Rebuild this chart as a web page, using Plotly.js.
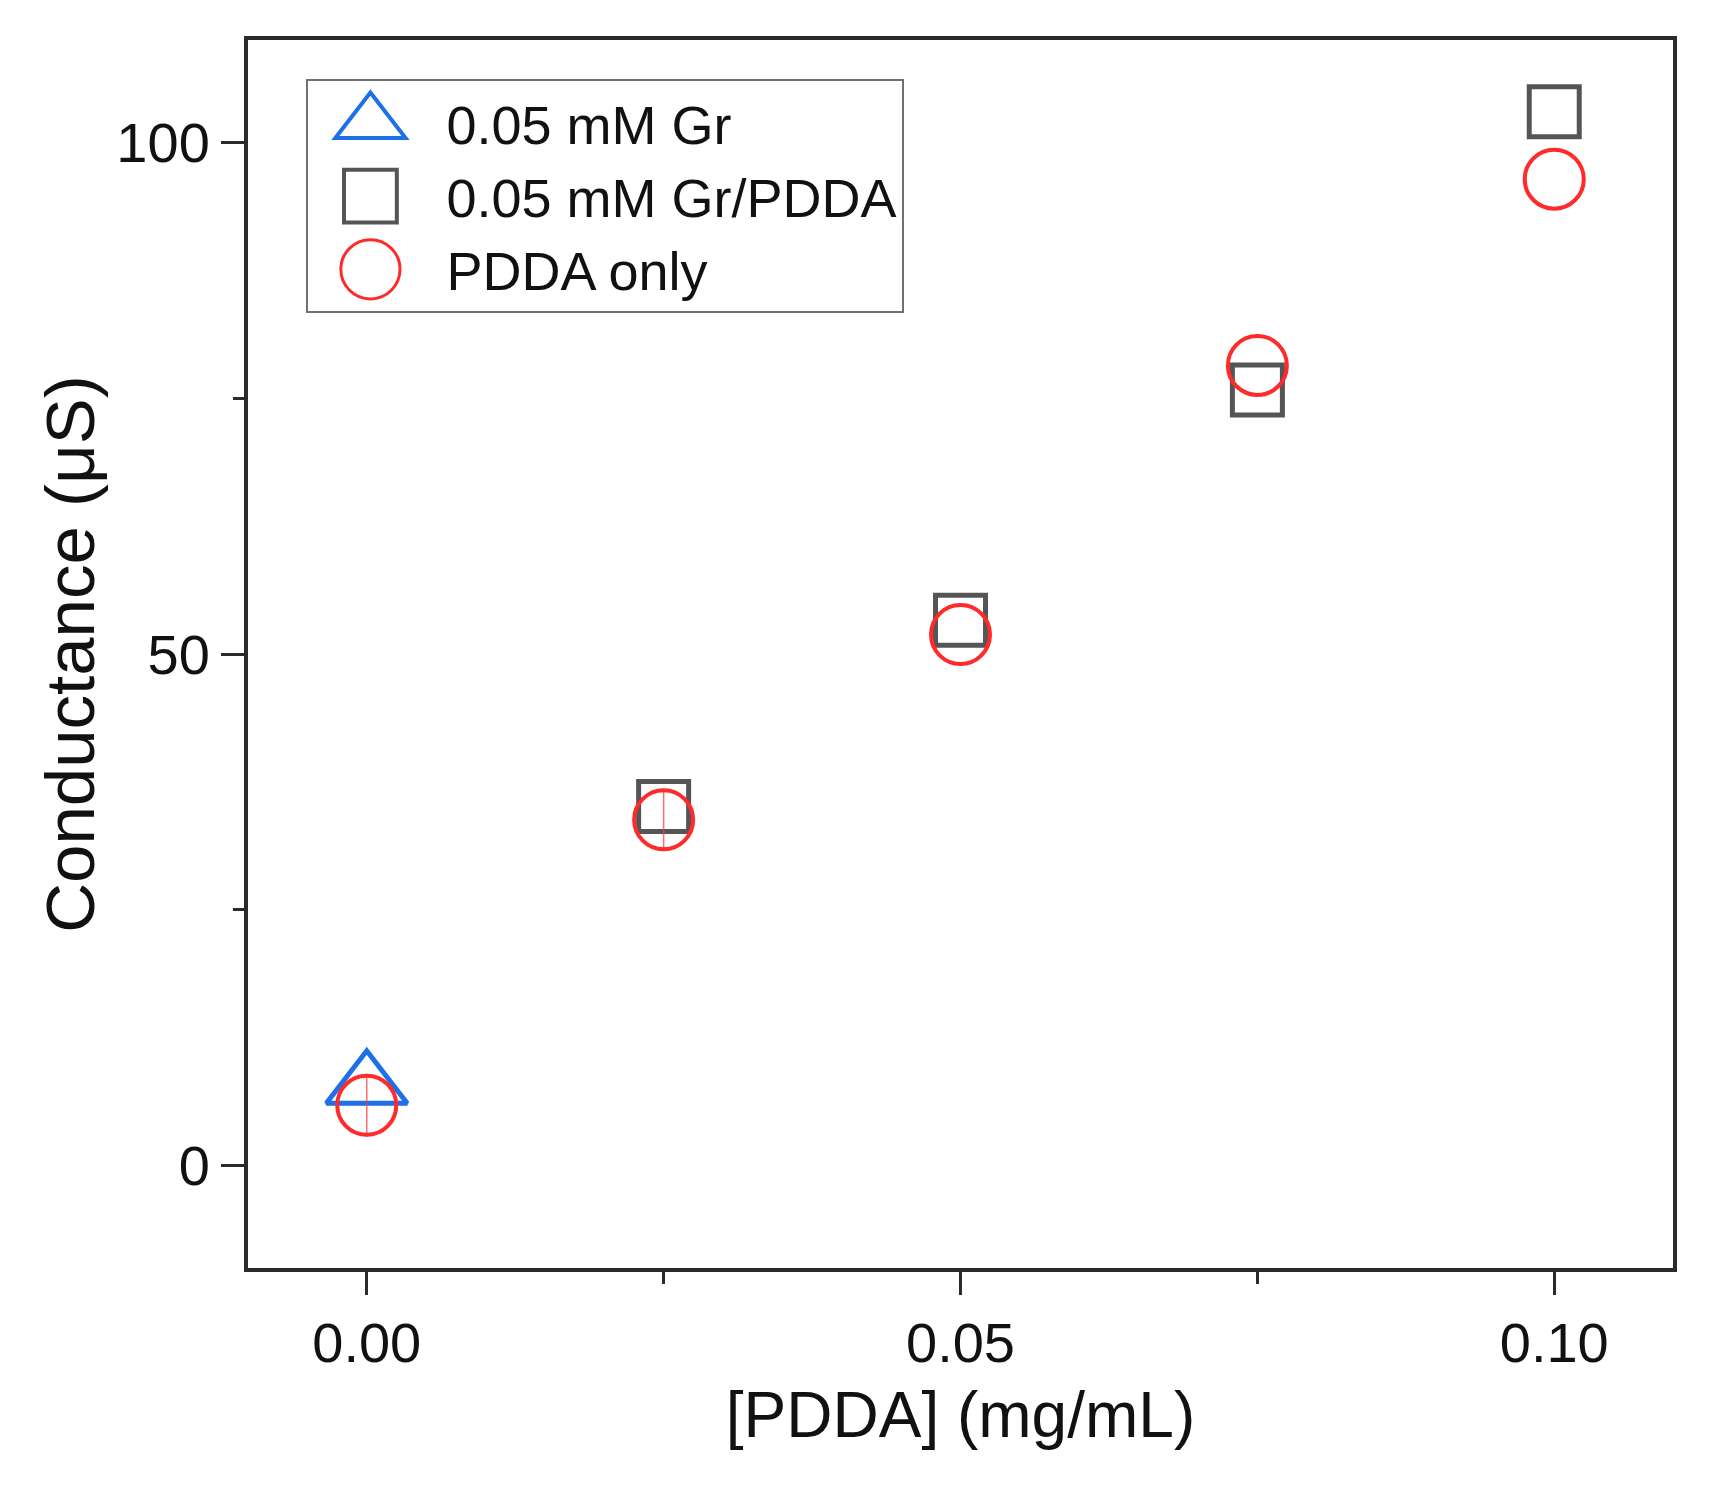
<!DOCTYPE html>
<html>
<head>
<meta charset="utf-8">
<script src="https://cdn.plot.ly/plotly-3.0.1.min.js"></script>
<style>
  html, body { margin: 0; padding: 0; background: #fff; }
  #chart { width: 1720px; height: 1497px; }
</style>
</head>
<body>
<div id="chart"></div>
<script>
// [PDDA] in mg/mL
const grX = [0];
const grY = [7.8];

const grPddaX = [0.025, 0.05, 0.075, 0.10];
const grPddaY = [35.1, 53.3, 75.8, 103.0];

const pddaX = [0, 0.025, 0.05, 0.075, 0.10];
const pddaY = [5.9, 33.8, 51.9, 78.2, 96.4];
const pddaErr = [3.1, 3.0, 0, 0, 0];

const xTicks = [0, 0.05, 0.10];
const yTicks = [0, 50, 100];

const font = 'Liberation Sans, Arial, sans-serif';

const data = [{
    x: grX,
    y: grY,
    name: '0.05 mM Gr',
    type: 'scatter',
    mode: 'markers',
    marker: {
        symbol: 'triangle-up-open',
        size: 70,
        color: '#1f6fe6',
        line: {width: 5, color: '#1f6fe6'}
    },
    legendgroup: 'a'
}, {
    x: grPddaX,
    y: grPddaY,
    name: '0.05 mM Gr/PDDA',
    type: 'scatter',
    mode: 'markers',
    marker: {
        symbol: 'square-open',
        size: 50,
        color: '#555555',
        line: {width: 5, color: '#555555'}
    },
    legendgroup: 'b'
}, {
    x: pddaX,
    y: pddaY,
    name: 'PDDA only',
    type: 'scatter',
    mode: 'markers',
    marker: {
        symbol: 'circle-open',
        size: 59,
        color: '#ff2a2a',
        line: {width: 4, color: '#ff2a2a'}
    },
    error_y: {
        type: 'data',
        array: pddaErr,
        visible: true,
        color: 'rgba(255,60,60,0.75)',
        thickness: 1.5,
        width: 0
    },
    legendgroup: 'c'
}];

const axisCommon = {
    showline: true,
    linecolor: '#2b2b2b',
    linewidth: 4,
    mirror: true,
    showgrid: false,
    zeroline: false,
    ticks: 'outside',
    ticklen: 23,
    tickwidth: 3,
    tickcolor: '#2b2b2b',
    tickfont: {family: font, size: 56, color: '#111'},
    automargin: false
};

const layout = {
    width: 1720,
    height: 1497,
    paper_bgcolor: '#ffffff',
    plot_bgcolor: '#ffffff',
    margin: {l: 248, r: 47, t: 40, b: 229},
    showlegend: true,
    xaxis: Object.assign({}, axisCommon, {
        range: [-0.01, 0.11],
        tickvals: xTicks,
        tickformat: '.2f',
        ticklabelstandoff: 0,
        minor: {dtick: 0.025, ticks: 'outside', ticklen: 12, tickwidth: 3, tickcolor: '#2b2b2b'},
        title: {
            text: '[PDDA] (mg/mL)',
            font: {family: font, size: 64, color: '#111'},
            standoff: 20
        }
    }),
    yaxis: Object.assign({}, axisCommon, {
        range: [-10, 110],
        tickvals: yTicks,
        ticklabelstandoff: 0,
        minor: {dtick: 25, ticks: 'outside', ticklen: 11, tickwidth: 3, tickcolor: '#2b2b2b'},
        title: {
            text: 'Conductance (μS)',
            font: {family: font, size: 69, color: '#111'},
            standoff: 0
        }
    }),
    legend: {
        x: 0.041,
        y: 0.968,
        xanchor: 'left',
        yanchor: 'top',
        bgcolor: '#ffffff',
        bordercolor: '#707070',
        borderwidth: 2,
        font: {family: font, size: 54, color: '#111'},
        itemwidth: 128,
        tracegroupgap: 3,
        traceorder: 'normal'
    }
};

Plotly.newPlot('chart', data, layout, {displayModeBar: false, staticPlot: true}).then(gd => {
    // legend markers are capped at 16px by Plotly; enlarge them to match the plot symbols
    const scales = [3.8, 3.3, 3.7];
    gd.querySelectorAll('.legend .traces').forEach((g, i) => {
        g.querySelectorAll('.legendpoints path.scatterpts').forEach(p => {
            p.setAttribute('transform', 'translate(62,0) scale(' + scales[i] + ')');
            p.style.vectorEffect = 'non-scaling-stroke';
            p.style.strokeWidth = i === 2 ? '3px' : '4px';
        });
    });
});
</script>
</body>
</html>
